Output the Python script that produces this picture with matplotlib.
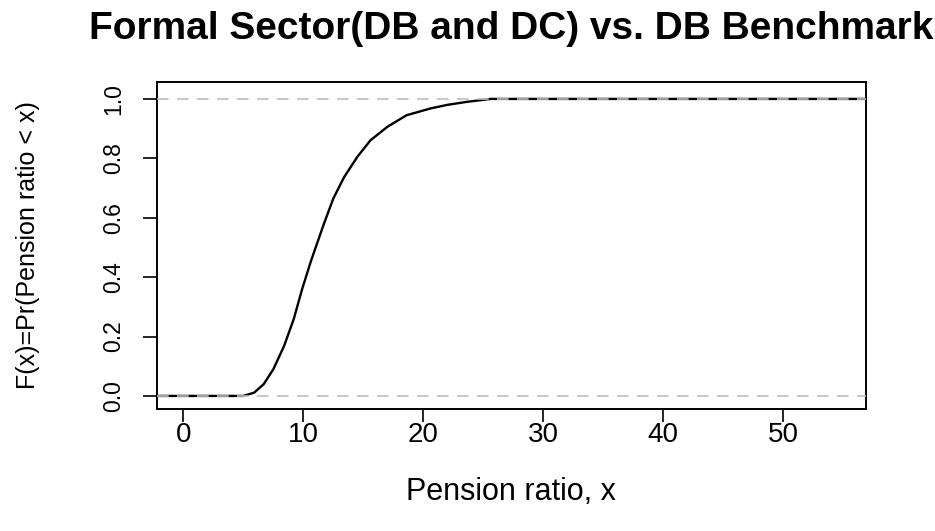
import numpy as np
import matplotlib
matplotlib.use('Agg')
import matplotlib.pyplot as plt

plt.rcParams['font.family'] = ['Liberation Sans', 'DejaVu Sans']

ratio = [5.0, 5.9, 6.7, 7.5, 8.4, 9.2, 9.9, 10.6, 11.0, 11.7, 12.5, 13.4, 14.5,
         15.6, 17.0, 18.6, 20.6, 22.0, 23.6, 25.6]
cdf = [0.0, 0.011, 0.040, 0.090, 0.169, 0.259, 0.360, 0.450, 0.497, 0.578, 0.665,
       0.737, 0.805, 0.861, 0.906, 0.945, 0.968, 0.980, 0.990, 1.0]
x_ticks = [0, 10, 20, 30, 40, 50]
y_ticks = [0.0, 0.2, 0.4, 0.6, 0.8, 1.0]
x_range = (-2.2, 56.9)
y_range = (-0.044, 1.057)

fig = plt.figure(figsize=(9.35, 5.31), dpi=100)
ax = fig.add_axes([157 / 935, 122 / 531, 709 / 935, 327 / 531])

# curve plus the flat parts out to the box edges
xs = [x_range[0]] + ratio + [x_range[1]]
ys = [0.0] + cdf + [1.0]
ax.plot(xs, ys, color='black', lw=1.7, zorder=2)

for h in [0, 1]:
    ax.axhline(h, color='#bebebe', lw=1.2, dashes=(7, 5), zorder=3)

ax.set_xlim(*x_range)
ax.set_ylim(*y_range)
ax.set_xticks(x_ticks)
ax.set_yticks(y_ticks)
ax.set_xticklabels([str(v) for v in x_ticks], fontsize=20)
ax.set_yticklabels(['%.1f' % v for v in y_ticks], fontsize=16.5, rotation=90, va='center')
ax.tick_params(axis='x', length=9.5, width=1.2, pad=0)
ax.tick_params(axis='y', length=10, width=1.2, pad=13)
for s in ax.spines.values():
    s.set_linewidth(1.4)

fig.text(511 / 935, 1 - 29 / 531, 'Formal Sector(DB and DC) vs. DB Benchmark',
         fontsize=28, fontweight='bold', ha='center', va='center')
fig.text(511 / 935, 1 - 492 / 531, 'Pension ratio, x', fontsize=22, ha='center', va='center')
fig.text(28 / 935, 1 - 245 / 531, 'F(x)=Pr(Pension ratio < x)', fontsize=18,
         rotation=90, ha='center', va='center')

fig.savefig('out.png', dpi=100)
